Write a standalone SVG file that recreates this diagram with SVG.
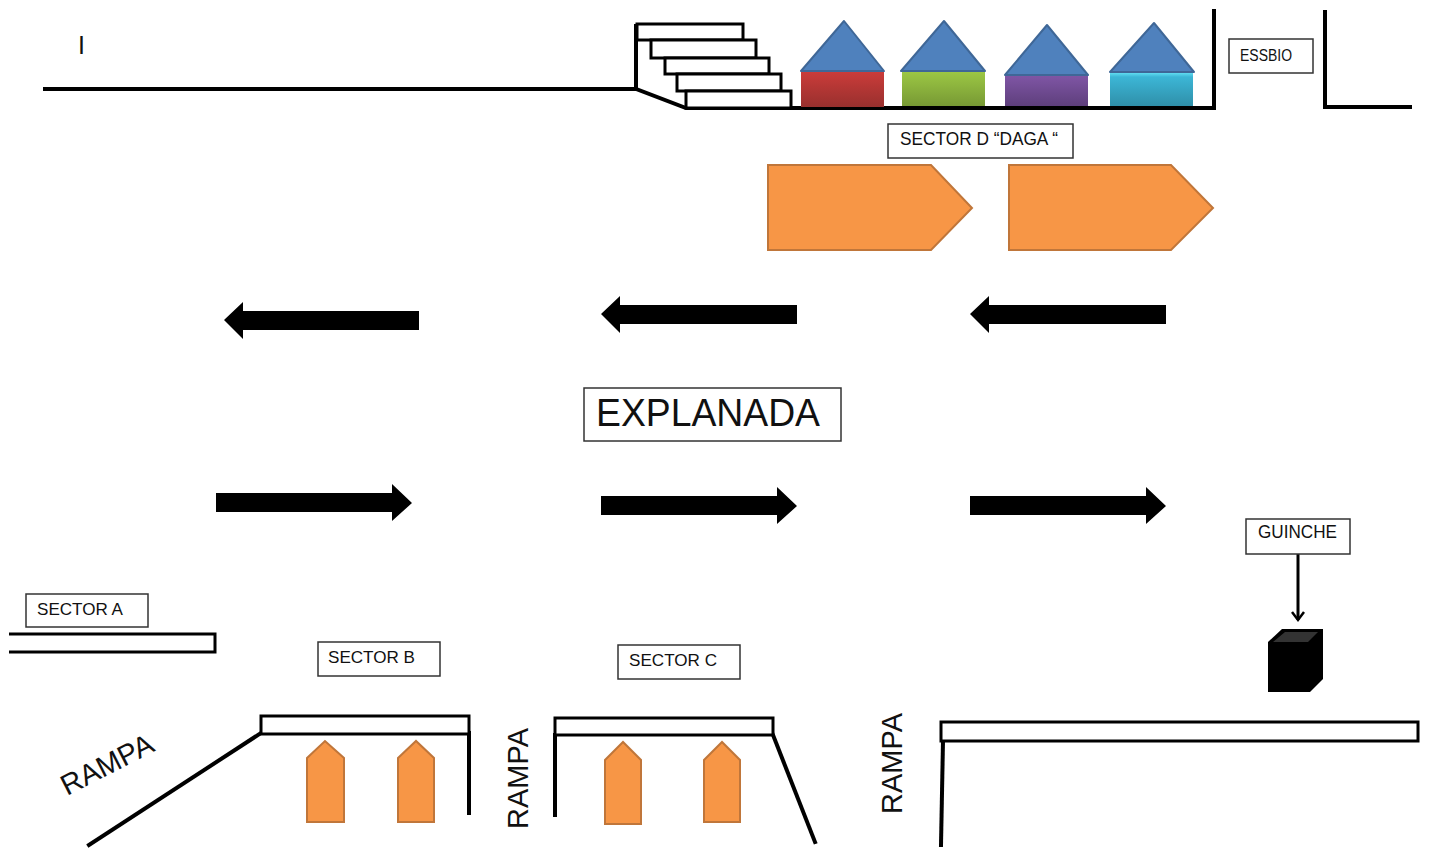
<svg xmlns="http://www.w3.org/2000/svg" width="1430" height="848" viewBox="0 0 1430 848">
<style>
text{font-family:"Liberation Sans",Arial,sans-serif;fill:#111}
.l{fill:none;stroke:#000;stroke-width:4;stroke-linecap:square}
.s{fill:#fff;stroke:#000;stroke-width:3}
.b{fill:#fff;stroke:#333;stroke-width:1.5}
.o{fill:#f79646;stroke:#c0763a;stroke-width:2}
.r{fill:#4f81bd;stroke:#3f6797;stroke-width:2;stroke-linejoin:round}
.t{font-size:17px;letter-spacing:-.6px}
.a{fill:#000}
.ra{font-size:29px}
</style>
<defs>
<linearGradient id="gr" x1="0" y1="0" x2="0" y2="1"><stop offset="0" stop-color="#cc3c3a"/><stop offset="1" stop-color="#98302e"/></linearGradient>
<linearGradient id="gg" x1="0" y1="0" x2="0" y2="1"><stop offset="0" stop-color="#9cc744"/><stop offset="1" stop-color="#779934"/></linearGradient>
<linearGradient id="gp" x1="0" y1="0" x2="0" y2="1"><stop offset="0" stop-color="#8056a6"/><stop offset="1" stop-color="#5e3f7c"/></linearGradient>
<linearGradient id="gc" x1="0" y1="0" x2="0" y2="1"><stop offset="0" stop-color="#5fdcf0"/><stop offset=".12" stop-color="#3cb6d6"/><stop offset="1" stop-color="#2f8fa9"/></linearGradient>
<marker id="ah" markerWidth="14" markerHeight="14" refX="11" refY="7" orient="auto" markerUnits="userSpaceOnUse"><path d="M3 1L11 7L3 13" fill="none" stroke="#000" stroke-width="2.5"/></marker>
</defs>
<g id="connectors">
<path class="l" d="M45 89H636L686 108H1214V11"/>
<path class="l" d="M1325 12V107H1410"/>
<path class="l" d="M636 89V26"/>
<path class="l" d="M89 845L261 733"/>
<path class="l" d="M469 733V813"/>
<path class="l" d="M555 735V815"/>
<path class="l" d="M773 735L815 842"/>
<path class="l" d="M943 741L941 845"/>
<path d="M1298 553V620" fill="none" stroke="#000" stroke-width="3" marker-end="url(#ah)"/>
</g>
<g id="label-i"><text x="78" y="54" font-size="25">I</text></g>
<g id="stairs">
<rect class="s" x="637" y="24" width="106" height="16"/>
<rect class="s" x="651" y="40" width="105" height="18"/>
<rect class="s" x="665" y="58" width="104" height="16"/>
<rect class="s" x="677" y="74" width="104" height="17"/>
<rect class="s" x="686" y="91" width="105" height="17"/>
</g>
<g id="house-red"><rect x="801" y="71" width="83" height="36" fill="url(#gr)"/><path class="r" d="M801 71L844 21L884 71Z"/></g>
<g id="house-green"><rect x="902" y="72" width="83" height="34" fill="url(#gg)"/><path class="r" d="M901 71L944 21L985 71Z"/></g>
<g id="house-purple"><rect x="1005" y="75" width="83" height="31" fill="url(#gp)"/><path class="r" d="M1005 75L1047 25L1088 75Z"/></g>
<g id="house-cyan"><rect x="1110" y="73" width="83" height="33" fill="url(#gc)"/><path class="r" d="M1110 72L1154 23L1194 72Z"/></g>
<g id="essbio"><rect class="b" x="1229" y="39" width="84" height="34"/><text x="1240" y="61" font-size="16" textLength="52" lengthAdjust="spacingAndGlyphs">ESSBIO</text></g>
<g id="sector-d"><rect class="b" x="888" y="124" width="185" height="34"/><text x="900" y="145" font-size="18" textLength="158" lengthAdjust="spacingAndGlyphs">SECTOR D “DAGA “</text></g>
<g id="bus-1"><path class="o" d="M768 165H931L972 208L931 250H768Z"/></g>
<g id="bus-2"><path class="o" d="M1009 165H1171L1213 208L1171 250H1009Z"/></g>
<g id="arrow-l1"><path class="a" d="M419 311V330H243V339L224 320L243 302V311Z"/></g>
<g id="arrow-l2"><path class="a" d="M797 305V324H620V333L601 314L620 296V305Z"/></g>
<g id="arrow-l3"><path class="a" d="M1166 305V324H989V333L970 314L989 296V305Z"/></g>
<g id="explanada"><rect class="b" x="584" y="388" width="257" height="53"/><text x="596" y="426" font-size="38" textLength="224" lengthAdjust="spacingAndGlyphs">EXPLANADA</text></g>
<g id="arrow-r1"><path class="a" d="M216 493H392V484L412 503L392 521V512H216Z"/></g>
<g id="arrow-r2"><path class="a" d="M601 496H777V487L797 506L777 524V515H601Z"/></g>
<g id="arrow-r3"><path class="a" d="M970 496H1146V487L1166 506L1146 524V515H970Z"/></g>
<g id="guinche"><rect class="b" x="1246" y="519" width="104" height="35"/><text x="1258" y="538" font-size="18" textLength="79" lengthAdjust="spacingAndGlyphs">GUINCHE</text></g>
<g id="cube"><path fill="#000" d="M1268 642L1282 629H1323V679L1310 692H1268Z"/><path fill="#333" d="M1273 642L1285 632H1318L1308 642Z"/></g>
<g id="sector-a"><rect class="b" x="26" y="594" width="122" height="33"/><text x="37" y="615" font-size="17" textLength="86" lengthAdjust="spacingAndGlyphs">SECTOR A</text></g>
<path class="s" d="M9 634H215V652H9" id="platform-a"/>
<g id="sector-b"><rect class="b" x="318" y="642" width="122" height="34"/><text x="328" y="663" font-size="17" textLength="87" lengthAdjust="spacingAndGlyphs">SECTOR B</text></g>
<g id="sector-c"><rect class="b" x="618" y="645" width="122" height="34"/><text x="629" y="666" font-size="17" textLength="88" lengthAdjust="spacingAndGlyphs">SECTOR C</text></g>
<rect class="s" id="platform-b" x="261" y="716" width="208" height="18"/>
<rect class="s" id="platform-c" x="555" y="718" width="218" height="17"/>
<rect class="s" id="platform-d" x="941" y="722" width="477" height="19"/>
<g id="bus-b1"><path class="o" d="M307 758L325 741L344 758V822H307Z"/></g>
<g id="bus-b2"><path class="o" d="M398 758L416 741L434 758V822H398Z"/></g>
<g id="bus-c1"><path class="o" d="M605 760L623 742L641 760V824H605Z"/></g>
<g id="bus-c2"><path class="o" d="M704 760L722 742L740 760V822H704Z"/></g>
<g id="rampa-1"><text class="ra" transform="translate(67 796) rotate(-27)" textLength="100" lengthAdjust="spacingAndGlyphs">RAMPA</text></g>
<g id="rampa-2"><text class="ra" transform="translate(528 829) rotate(-90)">RAMPA</text></g>
<g id="rampa-3"><text class="ra" transform="translate(902 814) rotate(-90)">RAMPA</text></g>
</svg>
